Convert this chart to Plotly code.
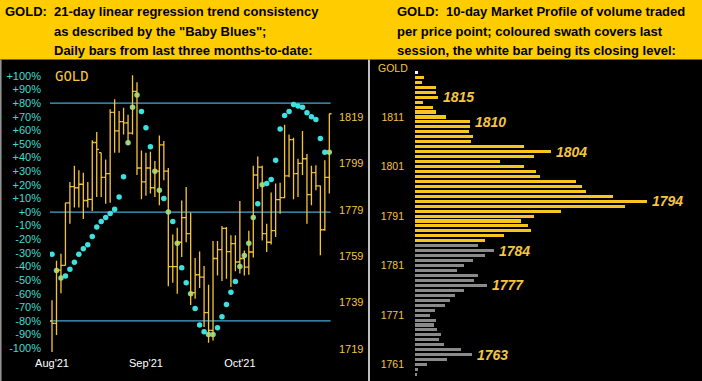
import pandas as pd
import plotly.graph_objects as go

# ---------------- data ----------------
trading_days = pd.bdate_range("2021-08-10", "2021-11-05", freq="C", holidays=["2021-09-06"])
dates = [d.strftime("%Y-%m-%d") for d in trading_days]

opens = [1731, 1730, 1753, 1755, 1782, 1789, 1788.5, 1790, 1783, 1783.5, 1808, 1803.6, 1793, 1794.6,
         1821, 1813, 1817, 1816.5, 1812, 1830, 1797, 1791, 1797, 1788.5, 1795.7, 1807, 1795.7, 1754.5,
         1754.5, 1765, 1775.6, 1768.7, 1743.3, 1751, 1750, 1734.7, 1727, 1758, 1761.8, 1771, 1761,
         1764.4, 1756.5, 1758, 1754.3, 1760.8, 1794, 1797.4, 1768.7, 1765, 1770, 1783.4, 1784.2,
         1793.6, 1809.2, 1794.6, 1799, 1801, 1785.5, 1795, 1789.3, 1770.4, 1793]
highs = [1740, 1757, 1760, 1782, 1791, 1798, 1796, 1795, 1791, 1809, 1812.5, 1803.6, 1800.7, 1822.3,
         1826.6, 1821.6, 1823, 1820, 1837, 1834, 1804.6, 1803.6, 1804, 1800, 1811, 1808.7, 1797,
         1768.4, 1771.3, 1783, 1788.8, 1777.8, 1758.2, 1761, 1754.8, 1746.7, 1765.5, 1765.5, 1772,
         1771.6, 1768, 1768, 1782.8, 1761.5, 1770, 1798, 1802, 1798, 1773, 1786.4, 1790.3, 1790.7,
         1815.7, 1811.4, 1810, 1801, 1813, 1803, 1798, 1798.2, 1789.5, 1800.3, 1820.4]
lows = [1717, 1725, 1743, 1755, 1773, 1780, 1780, 1775, 1780, 1778.5, 1784.5, 1784.5, 1781.6, 1782,
        1803.6, 1803.6, 1811.5, 1807, 1811.5, 1794, 1783.5, 1785, 1786, 1784.5, 1781, 1791.7, 1746,
        1747.6, 1742.8, 1758.6, 1765, 1738, 1740.7, 1745.3, 1728.5, 1721.7, 1722.7, 1750.7, 1748.3,
        1749.3, 1745.7, 1752.5, 1751.5, 1750.7, 1751, 1758.4, 1788, 1765.8, 1760.8, 1764, 1767.3,
        1777.3, 1784, 1793, 1783.5, 1784.5, 1794, 1773, 1781, 1787.4, 1759.4, 1770, 1786]
closes = [1730, 1753, 1755, 1782, 1789, 1788.5, 1790, 1783, 1783.5, 1808, 1805, 1793, 1794.6, 1821,
          1813, 1817, 1816.5, 1812, 1830, 1797, 1791, 1797, 1788.5, 1795.7, 1807, 1795.7, 1754.5,
          1754.5, 1765, 1775.6, 1768.7, 1743.3, 1751, 1750, 1734.7, 1727, 1758, 1761.8, 1771, 1761,
          1764.4, 1756.5, 1758, 1754.3, 1760.8, 1794, 1797.4, 1768.7, 1765, 1770, 1783.4, 1784.2,
          1793.6, 1809.2, 1794.6, 1799, 1801, 1785.5, 1795, 1789.3, 1770.4, 1793, 1820.4]
baby_blues = [-31, -43, -48.5, -47, -42, -37, -31, -27, -24, -18, -11, -7, -4, -1, 2, 11, 26, 51, 77,
              86, 74, 62, 48, 30, 16, 10, 0, -7, -23, -41, -52, -60, -71, -83, -88, -90, -90, -85,
              -77, -68, -59, -51, -40, -32, -23, -4, 6, 20, 21, 24, 38, 61, 71, 74, 79, 78, 77, 73,
              70, 68, 54, 44, 44]

month_tick_days = ["2021-08-10", "2021-09-09", "2021-10-08"]
month_tick_text = ["Aug'21", "Sep'21", "Oct'21"]
pct_ticks = list(range(-100, 101, 10))
pct_tick_text = [("+%d%%" % v) if v >= 0 else ("%d%%" % v) for v in pct_ticks]
price_ticks = [1719, 1739, 1759, 1779, 1799, 1819]

profile_prices = list(range(1820, 1758, -1))
profile_volume = [3, 9, 7, 21, 21, 23, 8, 18, 21, 31, 55, 55, 54, 58, 56, 109, 136, 119, 85, 109,
                  121, 125, 161, 167, 171, 198, 232, 210, 146, 119, 106, 113, 116, 89, 70, 63, 79,
                  70, 58, 49, 42, 63, 59, 72, 49, 40, 35, 30, 20, 15, 21, 19, 22, 26, 24, 29, 46,
                  57, 32, 12, 3, 2]
profile_ticks = [1761, 1771, 1781, 1791, 1801, 1811]
profile_labels = [1815, 1810, 1804, 1794, 1784, 1777, 1763]

assert len(dates) == len(opens) == len(highs) == len(lows) == len(closes) == len(baby_blues) == 63
assert len(profile_prices) == len(profile_volume)

# ---------------- styling ----------------
W, H = 702, 381
GOLD = "#F4C438"
GOLD_TXT = "#F5C542"
CYAN = "#3FE0E0"
GREENISH = "#78D89A"
LINE_BLUE = "#45A8D8"
SANS = "Liberation Sans, Arial, sans-serif"


def px(x):
    return x / W


def py(y):
    return 1 - y / H


idx = list(range(len(dates)))

# dot colour: greenish where the dot sits on that day's bar
pct_lo, pct_hi = -102.9, 110.3
pr_lo, pr_hi = 1717.7, 1842.7
dot_colors = []
for v, hi, lo in zip(baby_blues, highs, lows):
    frac = (v - pct_lo) / (pct_hi - pct_lo)
    eq_price = pr_lo + frac * (pr_hi - pr_lo)
    dot_colors.append(GREENISH if lo <= eq_price <= hi else CYAN)

last_low, last_high, last_close = lows[-1], highs[-1], round(closes[-1])
bar_colors = []
for p in profile_prices:
    if p == last_close:
        bar_colors.append("#FFFFFF")
    elif last_low <= p <= last_high:
        bar_colors.append("#F8C51E")
    else:
        bar_colors.append("#8A8A8A")

fig = go.Figure()

fig.add_trace(go.Ohlc(
    x=idx, open=opens, high=highs, low=lows, close=closes,
    xaxis="x", yaxis="y2", tickwidth=0.5,
    increasing=dict(line=dict(color=GOLD, width=1.3)),
    decreasing=dict(line=dict(color=GOLD, width=1.3)),
    hoverinfo="skip", showlegend=False,
))

fig.add_trace(go.Scatter(
    x=idx, y=baby_blues, mode="markers", xaxis="x", yaxis="y",
    marker=dict(size=5.5, color=dot_colors, line=dict(width=0)),
    hoverinfo="skip", showlegend=False,
))

fig.add_trace(go.Bar(
    y=profile_prices, x=profile_volume, orientation="h",
    xaxis="x2", yaxis="y3", width=0.62,
    marker=dict(color=bar_colors, line=dict(width=0)),
    hoverinfo="skip", showlegend=False,
))

shapes = [
    dict(type="rect", xref="paper", yref="paper", x0=0, x1=1, y0=py(59.5), y1=1,
         fillcolor="#FFCC00", line=dict(width=0), layer="below"),
    dict(type="line", xref="paper", yref="paper", x0=px(369), x1=px(369), y0=0, y1=py(59.5),
         line=dict(color="#FFFFFF", width=1.5)),
    dict(type="line", xref="paper", yref="paper", x0=px(0.8), x1=px(0.8), y0=0, y1=py(59.5),
         line=dict(color="#9A9A9A", width=1.5)),
]
for lvl in (80, 0, -80):
    shapes.append(dict(type="line", xref="x domain", yref="y", x0=0, x1=0.995, y0=lvl, y1=lvl,
                       line=dict(color=LINE_BLUE, width=1.2), layer="below"))

hdr_font = dict(family=SANS, size=13, color="#000000")
annotations = [
    dict(text="<b>GOLD:</b>", x=px(3), y=py(12)),
    dict(text="<b>21-day linear regression trend consistency</b>", x=px(52), y=py(12)),
    dict(text="<b>as described by the \"Baby Blues\";</b>", x=px(52), y=py(31.5)),
    dict(text="<b>Daily bars from last three months-to-date:</b>", x=px(52), y=py(51)),
    dict(text="<b>GOLD:\u00a0\u00a010-day Market Profile of volume traded</b>", x=px(395), y=py(12)),
    dict(text="<b>per price point; coloured swath covers last</b>", x=px(395), y=py(31.5)),
    dict(text="<b>session, the white bar being its closing level:</b>", x=px(395), y=py(51)),
]
for a in annotations:
    a.update(xref="paper", yref="paper", xanchor="left", yanchor="middle", showarrow=False,
             font=hdr_font)

annotations.append(dict(text="GOLD", x=px(53), y=py(76), xref="paper", yref="paper",
                        xanchor="left", yanchor="middle", showarrow=False,
                        font=dict(family="DejaVu Sans Mono, monospace", size=14, color=GOLD_TXT)))
annotations.append(dict(text="GOLD", x=px(376), y=py(67.5), xref="paper", yref="paper",
                        xanchor="left", yanchor="middle", showarrow=False,
                        font=dict(family=SANS, size=10.5, color=GOLD_TXT)))
for p in profile_labels:
    v = profile_volume[profile_prices.index(p)]
    annotations.append(dict(text="<b><i>%d</i></b>" % p, x=v, y=p, xref="x2", yref="y3",
                            xanchor="left", yanchor="middle", xshift=3, showarrow=False,
                            font=dict(family=SANS, size=14, color=GOLD_TXT)))

fig.update_layout(
    width=W, height=H, margin=dict(l=0, r=0, t=0, b=0, pad=0, autoexpand=False),
    paper_bgcolor="#000000", plot_bgcolor="rgba(0,0,0,0)",
    showlegend=False, hovermode=False, bargap=0,
    shapes=shapes, annotations=annotations,
    xaxis=dict(domain=[px(50), px(332)], anchor="y", range=[-0.45, 62.6], automargin=False,
               tickvals=[dates.index(d) for d in month_tick_days], ticktext=month_tick_text,
               tickfont=dict(family=SANS, size=11, color="#FFFFFF"),
               showgrid=False, zeroline=False, showline=False, ticks="", ticklabelstandoff=3,
               rangeslider=dict(visible=False), fixedrange=True),
    yaxis=dict(domain=[py(352), py(62)], anchor="x", range=[pct_lo, pct_hi], automargin=False,
               tickvals=pct_ticks, ticktext=pct_tick_text,
               tickfont=dict(family=SANS, size=11, color="#40DCD0"),
               showgrid=False, zeroline=False, showline=False, ticks="", ticklabelstandoff=8),
    yaxis2=dict(overlaying="y", side="right", anchor="x", range=[pr_lo, pr_hi], automargin=False,
                tickvals=price_ticks, ticktext=[str(t) for t in price_ticks],
                tickfont=dict(family=SANS, size=11, color=GOLD_TXT),
                showgrid=False, zeroline=False, showline=False, ticks="", ticklabelstandoff=6),
    xaxis2=dict(domain=[px(415), 1], anchor="y3", range=[0, 287], visible=False, automargin=False),
    yaxis3=dict(domain=[py(378), py(62)], anchor="x2", range=[1758.3, 1822.1], automargin=False,
                tickvals=profile_ticks, ticktext=[str(t) for t in profile_ticks],
                tickfont=dict(family=SANS, size=10.5, color=GOLD_TXT),
                showgrid=False, zeroline=False, showline=False, ticks="", ticklabelstandoff=10),
)

fig.write_html(
    "out.html",
    config={"displayModeBar": False},
    post_script="document.body.style.margin='0px';document.body.style.overflow='hidden';",
)
